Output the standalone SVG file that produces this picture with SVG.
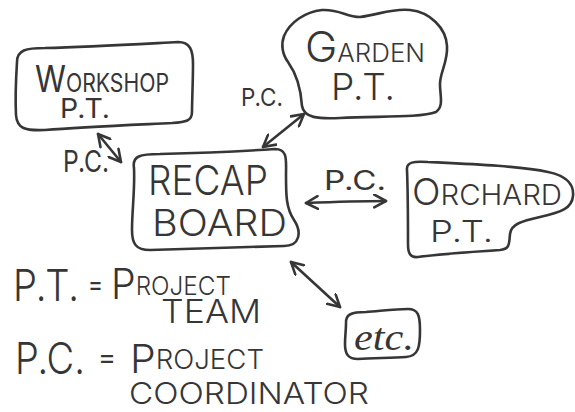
<svg xmlns="http://www.w3.org/2000/svg" width="575" height="412" viewBox="0 0 575 412">
  <style>
    .outline { fill: none; stroke: #363636; stroke-width: 2.6; stroke-linejoin: round; stroke-linecap: round; }
    .link { fill: none; stroke: #363636; stroke-width: 2.6; stroke-linecap: round; marker-start: url(#vhead); marker-end: url(#vhead); }
    .hand { font-family: "Inter", "DejaVu Sans", "Liberation Sans", sans-serif; font-weight: 400; fill: #363636; }
    .big { font-weight: 300; }
    .script { font-family: "Liberation Serif", "DejaVu Serif", serif; font-style: italic; fill: #363636; }
  </style>
  <defs>
    <marker id="vhead" viewBox="0 0 14 14" refX="12" refY="7" markerWidth="15" markerHeight="15" markerUnits="userSpaceOnUse" orient="auto-start-reverse">
      <path d="M1,1 L12,7 L1,13" fill="none" stroke="#363636" stroke-width="2.4" stroke-linecap="round" stroke-linejoin="round"/>
    </marker>
  </defs>
  <rect width="575" height="412" fill="#ffffff"/>

  <!-- connectors with their labels -->
  <g id="connectors">
    <path class="link" d="M98,134 L121,162"/>
    <path class="link" d="M304,114 L263,147"/>
    <path class="link" d="M306,203 C330,202 360,201 386,201"/>
    <path class="link" d="M291,262 L340,307"/>
    <text class="hand" x="63" y="172" font-size="30" textLength="46" lengthAdjust="spacingAndGlyphs">P.C.</text>
    <text class="hand" x="241" y="106" font-size="24" textLength="42" lengthAdjust="spacingAndGlyphs">P.C.</text>
    <text class="hand" x="324" y="190" font-size="27" textLength="62" lengthAdjust="spacingAndGlyphs">P.C.</text>
  </g>

  <g id="workshop">
    <path class="outline" d="M17,62 C17,50 26,48 45,48 C90,47 140,44 178,42 C190,42 193,50 193,64 C193,82 192,100 192,112 C192,121 186,122 172,123 C130,125 80,127 45,130 C24,131 17,128 16,115 C15,95 16,78 17,62 Z"/>
    <text class="hand" x="35" y="92" textLength="134" lengthAdjust="spacingAndGlyphs"><tspan font-size="37">W</tspan><tspan font-size="25">ORKSHOP</tspan></text>
    <text class="hand" x="60" y="118" font-size="27" textLength="50" lengthAdjust="spacingAndGlyphs">P.T.</text>
  </g>

  <g id="garden">
    <path class="outline" d="M284,36 C290,22 305,12 322,10 C340,9 346,17 360,17 C378,15 392,8 410,10 C430,12 446,28 447,46 C448,62 440,72 440,84 C440,96 444,106 436,112 C420,118 380,116 340,118 C318,119 304,118 302,106 C301,90 298,76 288,62 C282,54 281,44 284,36 Z"/>
    <text class="hand big" x="305" y="62" textLength="120" lengthAdjust="spacingAndGlyphs"><tspan font-size="42">G</tspan><tspan font-size="25">ARDEN</tspan></text>
    <text class="hand big" x="331" y="100" font-size="37" textLength="64" lengthAdjust="spacingAndGlyphs">P.T.</text>
  </g>

  <g id="recap">
    <path class="outline" d="M134,168 C132,156 140,154 160,154 C200,153 245,151 275,149 C288,149 286,160 286,175 C286,195 286,208 294,220 C302,232 300,246 284,246 C240,247 190,249 150,250 C136,250 132,244 132,230 C132,210 135,190 134,168 Z"/>
    <text class="hand big" x="148" y="195" font-size="41" textLength="120" lengthAdjust="spacingAndGlyphs">RECAP</text>
    <text class="hand big" x="152" y="236" font-size="37" textLength="135" lengthAdjust="spacingAndGlyphs">BOARD</text>
  </g>

  <g id="orchard">
    <path class="outline" d="M407,170 C406,162 414,161 428,162 C470,164 520,166 548,172 C568,176 574,186 573,196 C572,208 562,212 540,217 C522,221 511,224 510,234 C509,244 510,249 500,250 C470,252 440,254 418,257 C410,258 408,253 408,244 C408,220 408,195 407,170 Z"/>
    <text class="hand big" x="412" y="205" textLength="150" lengthAdjust="spacingAndGlyphs"><tspan font-size="37">O</tspan><tspan font-size="29">RCHARD</tspan></text>
    <text class="hand big" x="430" y="242" font-size="30" textLength="63" lengthAdjust="spacingAndGlyphs">P.T.</text>
  </g>

  <g id="etc">
    <path class="outline" d="M346,324 C345,314 352,312 366,312 C380,311 395,309 408,309 C418,309 420,315 420,330 C420,346 419,356 406,357 C390,358 372,358 358,359 C348,359 345,354 345,344 C345,336 346,330 346,324 Z"/>
    <text class="script" x="354" y="350" font-size="38" textLength="60" lengthAdjust="spacingAndGlyphs">etc.</text>
  </g>

  <!-- key -->
  <g id="legend">
    <text class="hand big" x="13" y="301" font-size="44" textLength="66" lengthAdjust="spacingAndGlyphs">P.T.</text>
    <text class="hand" x="88" y="294" font-size="28" textLength="15" lengthAdjust="spacingAndGlyphs">=</text>
    <text class="hand big" x="111" y="299" textLength="120" lengthAdjust="spacingAndGlyphs"><tspan font-size="42">P</tspan><tspan font-size="26" dy="-4">ROJECT</tspan></text>
    <text class="hand big" x="161" y="323" font-size="32" textLength="100" lengthAdjust="spacingAndGlyphs">TEAM</text>
    <text class="hand big" x="15" y="374" font-size="44" textLength="70" lengthAdjust="spacingAndGlyphs">P.C.</text>
    <text class="hand" x="98" y="367" font-size="28" textLength="18" lengthAdjust="spacingAndGlyphs">=</text>
    <text class="hand big" x="130" y="373" textLength="134" lengthAdjust="spacingAndGlyphs"><tspan font-size="40">P</tspan><tspan font-size="27" dy="-4">ROJECT</tspan></text>
    <text class="hand big" x="129" y="404" font-size="30" textLength="240" lengthAdjust="spacingAndGlyphs">COORDINATOR</text>
  </g>
</svg>
